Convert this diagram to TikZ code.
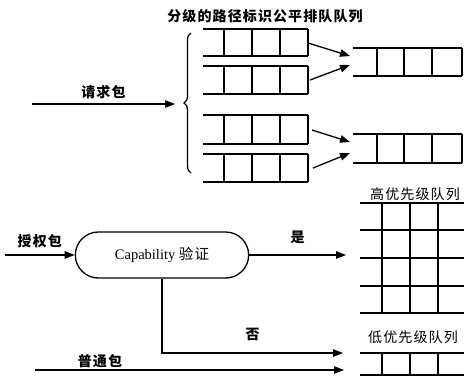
\documentclass[tikz,border=0pt]{standalone}
\usepackage{fontspec}
\setmainfont{Liberation Serif}
\newfontfamily\cjk[LetterSpace=8]{Noto Sans CJK SC}
\usetikzlibrary{arrows.meta,shapes.misc,decorations.pathreplacing}

\tikzset{
  qline/.style={line width=1.5pt},
  flow/.style={-{Triangle[length=10pt,width=7.5pt]}, line width=1.3pt},
  lbl/.style={font=\cjk\bfseries\fontsize{14}{16}\selectfont, inner sep=1pt},
  qlbl/.style={font=\cjk\fontsize{14}{16}\selectfont, inner sep=1pt},
  checker/.style={rounded rectangle, draw, line width=1.3pt, minimum width=180pt, minimum height=46pt,
                  font=\fontsize{14.5}{16}\selectfont},
}

\begin{document}
\begin{tikzpicture}[x=1pt, y=-1pt]
  \useasboundingbox (0,0) rectangle (464,376);
  % title over the fair queues
  \node (title) [lbl] at (265,16) {分级的路径标识公平排队队列};
  % four path-id fair queues (open at the left)
  \foreach \t/\b in {29/56, 66/94, 115/144, 154/182} {
    \draw[qline] (203,\t) -- (308,\t) (203,\b) -- (308,\b);
    \foreach \x in {224,252,280,308} \draw[qline] (\x,\t) -- (\x,\b);
  }
  % two merged queues
  \foreach \t/\b in {48/76, 134/163} {
    \draw[qline] (353,\t) -- (462,\t) (353,\b) -- (462,\b);
    \foreach \x in {377,404,432,462} \draw[qline] (\x,\t) -- (\x,\b);
  }
  \coordinate (q1) at (308,43);  \coordinate (m1a) at (350,56);
  \coordinate (q2) at (310,80);  \coordinate (m1b) at (350,65);
  \coordinate (q3) at (312,130); \coordinate (m2a) at (350,142);
  \coordinate (q4) at (313,168); \coordinate (m2b) at (350,153);
  \draw[flow] (q1) -- (m1a);
  \draw[flow] (q2) -- (m1b);
  \draw[flow] (q3) -- (m2a);
  \draw[flow] (q4) -- (m2b);
  % brace gathering the fair queues
  \draw[line width=1.3pt, decorate, decoration={brace, amplitude=7pt}] (191,173) -- (191,33);
  \coordinate (bracetip) at (175,104);
  \coordinate (reqin) at (32,104);
  \draw[flow] (reqin) -- (bracetip) node[midway, above=3pt, lbl] {请求包};
  % capability check
  \node (cap) [checker] at (162,255) {Capability {\cjk 验证}};
  \coordinate (authin) at (5,255);
  \draw[flow] (authin) -- (cap.west) node[midway, above=5pt, lbl] {授权包};
  \coordinate (hiin) at (346,255);
  \draw[flow] (cap.east) -- (hiin) node[midway, above=9pt, lbl] {是};
  \coordinate (loin) at (343,353);
  \draw[flow] (cap.south) |- (loin) node[pos=0.75, above=11pt, lbl] {否};
  \coordinate (normin) at (35,370);
  \coordinate (normout) at (344,370);
  \draw[flow] (normin) -- (normout) node[pos=0.21, above=1pt, lbl] {普通包};
  % high priority queue
  \node (hilabel) [qlbl] at (415,194) {高优先级队列};
  \foreach \y in {203,230,258,286,313} \draw[qline] (360,\y) -- (464,\y);
  \foreach \x in {382,410,438} \draw[qline] (\x,203) -- (\x,313);
  % low priority queue
  \node (lolabel) [qlbl] at (413,337) {低优先级队列};
  \foreach \y in {353,375} \draw[qline] (360,\y) -- (464,\y);
  \foreach \x in {382,410,438} \draw[qline] (\x,353) -- (\x,375);
\end{tikzpicture}
\end{document}
